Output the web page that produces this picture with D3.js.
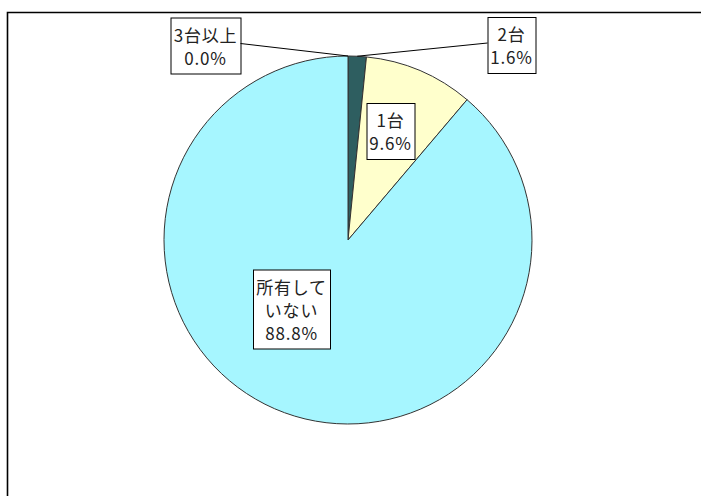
<!DOCTYPE html>
<html>
<head>
<meta charset="utf-8">
<script src="https://cdn.jsdelivr.net/npm/d3@7"></script>
<style>
  html, body { margin: 0; padding: 0; background: #fff; overflow: hidden; }
  svg { display: block; }
  text { font-family: "Noto Sans CJK JP", "Noto Sans", sans-serif; font-size: 17px; letter-spacing: 0.8px; fill: #222; }
</style>
</head>
<body>
<svg id="chart" width="701" height="496"></svg>
<script>
// Vehicle ownership share (%), clockwise from 12 o'clock
const categories = ["3台以上", "2台", "1台", "所有していない"];
const labelLines = [["3台以上"], ["2台"], ["1台"], ["所有して", "いない"]];
const values = [0.0, 1.6, 9.6, 88.8];
const colors = ["#8fd8d8", "#2e5e60", "#ffffcc", "#a6f6ff"];

// Layout: label box centres relative to the pie centre, and which side a leader line leaves from
const labelLayout = [
  { dx: -142.5, dy: -194.5, leader: "right" },
  { dx: 163.5,  dy: -195,   leader: "left" },
  { dx: 42.5,   dy: -109,   leader: null },
  { dx: -56.5,  dy: 69,     leader: null }
];

const svg = d3.select("#chart");
const cx = 348, cy = 240, r = 184;

// Outer frame: only the top and left edges fall inside the view
svg.append("path")
  .attr("d", "M7.5,520V12.5H720")
  .attr("fill", "none").attr("stroke", "#000").attr("stroke-width", 1.6);

const data = categories.map((c, i) => ({ name: c, lines: labelLines[i], value: values[i], color: colors[i], layout: labelLayout[i] }));

const pie = d3.pie().sort(null).value(d => d.value).startAngle(0).endAngle(2 * Math.PI);
const arcs = pie(data);
const arc = d3.arc().innerRadius(0).outerRadius(r);

const g = svg.append("g").attr("transform", `translate(${cx},${cy})`);

g.selectAll("path.slice")
  .data(arcs)
  .join("path")
  .attr("class", "slice")
  .attr("d", arc)
  .attr("fill", d => d.data.color)
  .attr("stroke", "#333")
  .attr("stroke-width", 1)
  .attr("stroke-linejoin", "round");

const lineH = 23;
const padX = 3, padY = 5;

arcs.forEach(a => {
  const d = a.data;
  const lines = d.lines.concat([d.value.toFixed(1) + "%"]);
  const lg = g.append("g").attr("transform", `translate(${d.layout.dx},${d.layout.dy})`);
  const box = lg.append("rect").attr("fill", "#fff").attr("stroke", "#000").attr("stroke-width", 1);
  const t = lg.append("text").attr("text-anchor", "middle");
  const n = lines.length;
  lines.forEach((s, i) => {
    t.append("tspan")
      .attr("x", 0)
      .attr("y", (i - (n - 1) / 2) * lineH)
      .attr("dominant-baseline", "central")
      .text(s);
  });
  const bb = t.node().getBBox();
  const w = Math.round(bb.width + 2 * padX);
  const h = Math.round(n * lineH + 2 * padY);
  box.attr("x", -w / 2 + 0.5).attr("y", -h / 2 + 0.5).attr("width", w).attr("height", h);

  if (d.layout.leader) {
    const mid = (a.startAngle + a.endAngle) / 2;
    const px = r * Math.sin(mid), py = -r * Math.cos(mid);
    const sx = d.layout.dx + (d.layout.leader === "right" ? w / 2 : -w / 2);
    const sy = d.layout.dy - 2;
    g.append("line")
      .attr("x1", sx).attr("y1", sy)
      .attr("x2", px).attr("y2", py)
      .attr("stroke", "#000").attr("stroke-width", 1);
  }
});
</script>
</body>
</html>
